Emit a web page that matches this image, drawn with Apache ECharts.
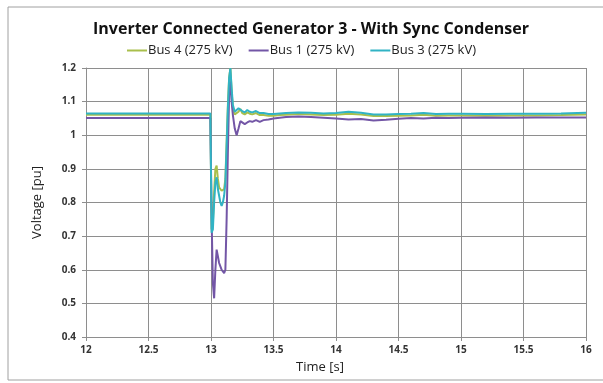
<!DOCTYPE html>
<html style="height: 100%">
<head>
    <meta charset="utf-8">
    <script src="https://cdn.jsdelivr.net/npm/echarts@6/dist/echarts.min.js"></script>
</head>
<body style="height: 100%; margin: 0; background-color: #ffffff">
    <div id="container" style="width: 603px; height: 383px"></div>
    <script type="text/javascript">
        // time samples [s], shared by all three buses
        var times = [12, 12.995, 13.005, 13.015, 13.025, 13.035, 13.045, 13.055, 13.065, 13.075,
            13.085, 13.095, 13.105, 13.115, 13.125, 13.135, 13.145, 13.155, 13.165, 13.175,
            13.19, 13.205, 13.22, 13.235, 13.25, 13.27, 13.29, 13.31, 13.33, 13.36,
            13.39, 13.42, 13.46, 13.5, 13.55, 13.6, 13.7, 13.8, 13.9, 14.0,
            14.1, 14.2, 14.3, 14.4, 14.5, 14.6, 14.7, 14.8, 14.9, 15.0,
            15.2, 15.4, 15.6, 15.8, 16.0];

        // voltage [pu]
        var bus4 = [1.061, 1.061, 0.72, 0.74, 0.83, 0.90, 0.91, 0.87, 0.845, 0.84,
            0.835, 0.84, 0.84, 0.87, 0.98, 1.09, 1.17, 1.20, 1.13, 1.08,
            1.062, 1.058, 1.07, 1.078, 1.066, 1.062, 1.068, 1.064, 1.062, 1.066,
            1.06, 1.06, 1.058, 1.058, 1.06, 1.061, 1.063, 1.062, 1.06, 1.061,
            1.064, 1.062, 1.057, 1.057, 1.058, 1.059, 1.061, 1.058, 1.059, 1.059,
            1.058, 1.059, 1.059, 1.06, 1.062];
        var bus1 = [1.051, 1.051, 0.75, 0.56, 0.515, 0.60, 0.66, 0.64, 0.62, 0.61,
            0.60, 0.595, 0.59, 0.60, 0.75, 0.95, 1.12, 1.16, 1.10, 1.06,
            1.02, 1.00, 1.02, 1.042, 1.04, 1.033, 1.038, 1.042, 1.04, 1.045,
            1.04, 1.045, 1.047, 1.05, 1.052, 1.054, 1.056, 1.054, 1.052, 1.05,
            1.047, 1.048, 1.044, 1.046, 1.049, 1.051, 1.05, 1.052, 1.051, 1.052,
            1.053, 1.052, 1.053, 1.053, 1.053];
        var bus3 = [1.065, 1.065, 0.71, 0.72, 0.80, 0.86, 0.875, 0.84, 0.82, 0.80,
            0.79, 0.80, 0.82, 0.86, 0.97, 1.08, 1.17, 1.20, 1.14, 1.09,
            1.07, 1.066, 1.08, 1.085, 1.072, 1.068, 1.075, 1.07, 1.068, 1.072,
            1.066, 1.066, 1.063, 1.063, 1.065, 1.066, 1.068, 1.067, 1.065, 1.066,
            1.07, 1.067, 1.062, 1.062, 1.063, 1.064, 1.066, 1.063, 1.064, 1.064,
            1.063, 1.064, 1.064, 1.065, 1.067];

        var names = ['Bus 4 (275 kV)', 'Bus 1 (275 kV)', 'Bus 3 (275 kV)'];
        var colors = ['#a9bf4c', '#7356a6', '#31b3c4'];

        function pairs(vals) {
            var out = [];
            for (var i = 0; i < times.length; i++) {
                out.push([times[i], vals[i]]);
            }
            return out;
        }

        var gridColor = '#8e8e8e';
        var labelStyle = { color: '#333', fontSize: 10, fontWeight: 'bold', fontFamily: 'Open Sans' };

        var dom = document.getElementById("container");
        var myChart = echarts.init(dom);

        var option = {
            animation: false,
            color: colors,
            title: {
                text: 'Inverter Connected Generator 3 - With Sync Condenser',
                left: 306,
                textAlign: 'center',
                top: 16,
                textStyle: { fontFamily: 'Open Sans', fontWeight: 'bold', fontSize: 16, color: '#111' }
            },
            legend: {
                top: 39,
                left: 'center',
                itemGap: 16,
                itemWidth: 20,
                itemHeight: 2,
                icon: 'rect',
                textStyle: { fontFamily: 'Open Sans', fontSize: 13, color: '#222', padding: [0, 0, 0, -4] },
                data: names
            },
            grid: { left: 86, right: 17, top: 68, bottom: 46 },
            xAxis: {
                type: 'value',
                min: 12,
                max: 16,
                interval: 0.5,
                name: 'Time [s]',
                nameLocation: 'middle',
                nameGap: 24,
                nameTextStyle: { fontFamily: 'Open Sans', fontSize: 13, color: '#222', padding: [0, 32, 0, 0] },
                axisLine: { lineStyle: { color: gridColor } },
                axisTick: { show: true, length: 4, lineStyle: { color: gridColor } },
                axisLabel: labelStyle,
                splitLine: { show: true, lineStyle: { color: gridColor, width: 1 } }
            },
            yAxis: {
                type: 'value',
                min: 0.4,
                max: 1.2,
                interval: 0.1,
                name: 'Voltage [pu]',
                nameLocation: 'middle',
                nameGap: 42,
                nameTextStyle: { fontFamily: 'Open Sans', fontSize: 13, color: '#222' },
                axisLine: { show: true, lineStyle: { color: gridColor } },
                axisTick: { show: true, length: 4, lineStyle: { color: gridColor } },
                axisLabel: {
                    color: '#333', fontSize: 10, fontWeight: 'bold', fontFamily: 'Open Sans', margin: 10,
                    formatter: function (v) { return Math.round(v * 10) / 10 + ''; }
                },
                splitLine: { lineStyle: { color: gridColor, width: 1 } }
            },
            graphic: [{
                type: 'rect',
                shape: { x: 8, y: 7, width: 700, height: 373 },
                style: { fill: 'none', stroke: '#a0a0a0', lineWidth: 1 },
                silent: true
            }],
            series: [
                { name: names[0], type: 'line', symbol: 'none', lineStyle: { width: 2 }, data: pairs(bus4) },
                { name: names[1], type: 'line', symbol: 'none', lineStyle: { width: 2 }, data: pairs(bus1) },
                { name: names[2], type: 'line', symbol: 'none', lineStyle: { width: 2 }, data: pairs(bus3) }
            ]
        };
        myChart.setOption(option);
    </script>
</body>
</html>
